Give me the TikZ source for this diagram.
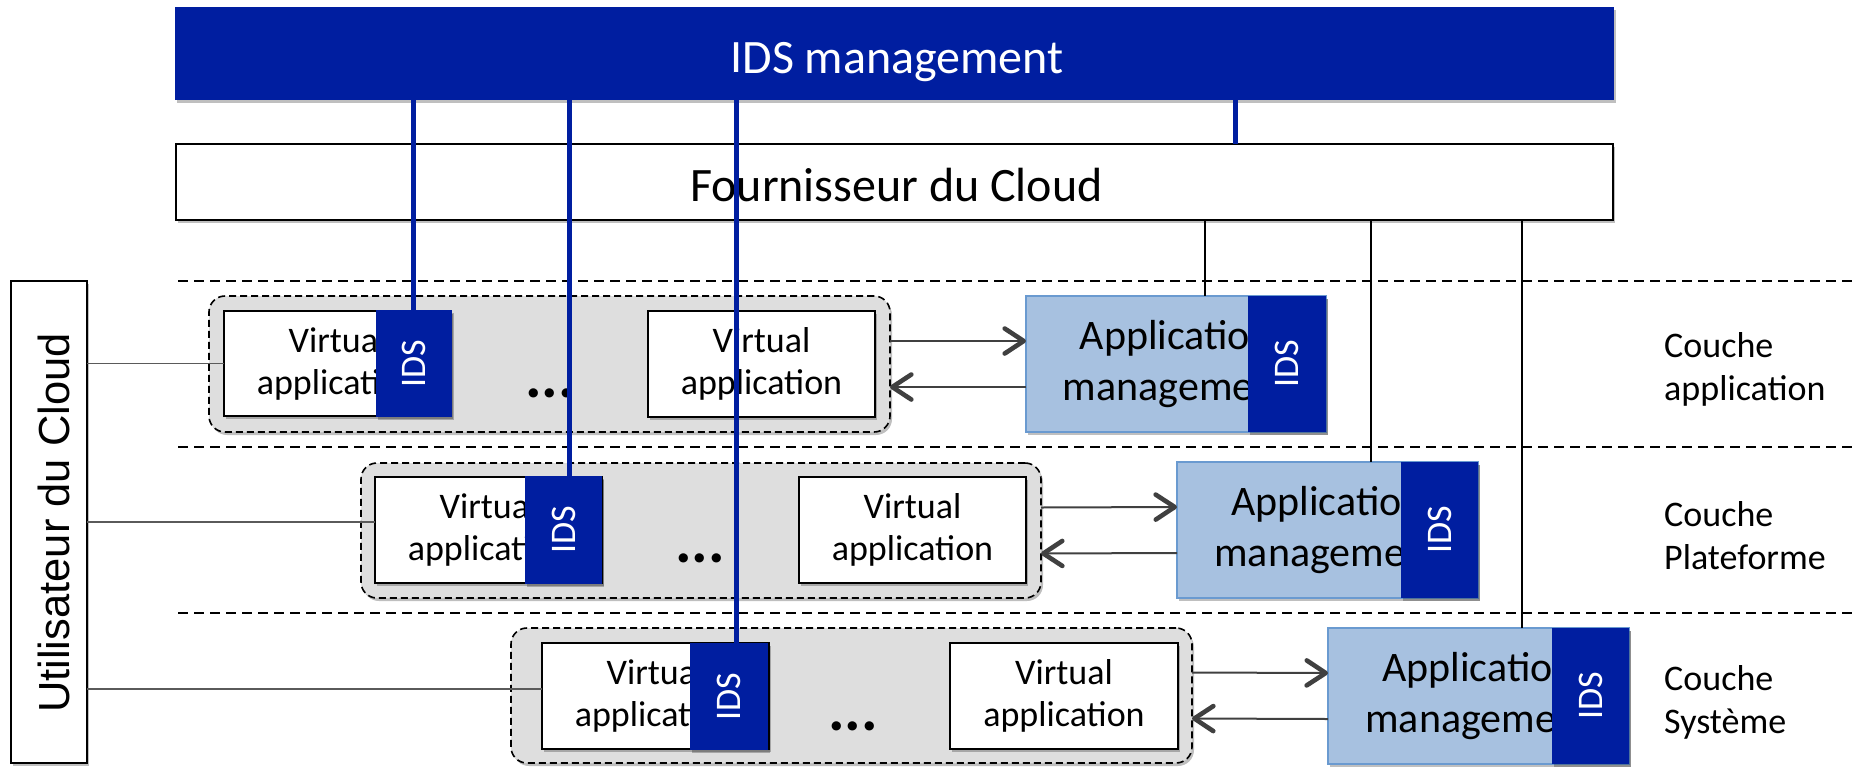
\documentclass[tikz,border=0pt]{standalone}
\usepackage{fontspec}
\setmainfont{Carlito}
\newfontfamily\userfont{Liberation Sans}
\usetikzlibrary{arrows.meta,shadows}
\definecolor{idsblue}{HTML}{001EA0}
\definecolor{appfill}{HTML}{A7C1E0}
\definecolor{appdraw}{HTML}{6A9AD0}
\definecolor{grpfill}{HTML}{DEDEDE}
\definecolor{arrgray}{HTML}{404040}
\definecolor{linegray}{HTML}{5A5A5A}
\begin{document}
\begin{tikzpicture}[x=1pt,y=-1pt,
  shad/.style={drop shadow={shadow xshift=2pt,shadow yshift=-3pt,opacity=0.25,fill=black}},
  rbox/.style={rectangle,inner sep=0pt,outer sep=0pt},
  barbox/.style={rbox,fill=idsblue,shad},
  whitebox/.style={rbox,draw=black,line width=2pt,fill=white,shad},
  grpbox/.style={rbox,draw=black,line width=1.6pt,dash pattern=on 7pt off 4pt,fill=grpfill,rounded corners=16pt,shad},
  vabox/.style={rbox,draw=black,line width=2pt,fill=white,align=center,font=\fontsize{36}{42}\selectfont,shad},
  appbox/.style={rbox,draw=appdraw,line width=2pt,fill=appfill,align=center,font=\fontsize{42}{51}\selectfont,shad},
  idsbox/.style={rbox,fill=idsblue,shad},
  idstext/.style={text=white,rotate=90,inner sep=0pt,font=\fontsize{36}{40}\selectfont},
  dotstext/.style={inner sep=0pt,font=\fontsize{62}{62}\selectfont\bfseries},
  laytext/.style={anchor=west,align=left,inner sep=0pt,font=\fontsize{36}{43}\selectfont},
  sepline/.style={line width=2pt,dash pattern=on 10pt off 6pt},
  thinline/.style={line width=1.2pt,black},
  userline/.style={line width=1.5pt,linegray},
  blueline/.style={line width=5pt,idsblue},
  arr/.style={line width=2pt,arrgray,-{Straight Barb[length=19pt,width=25pt,line width=4.6pt,round]}}
]
\useasboundingbox (0,0) rectangle (1857,766);

% separators
\coordinate (s1l) at (178,281); \coordinate (s1r) at (1857,281);
\coordinate (s2l) at (178,447); \coordinate (s2r) at (1857,447);
\coordinate (s3l) at (178,613); \coordinate (s3r) at (1857,613);
\draw[sepline] (s1l) -- (s1r);
\draw[sepline] (s2l) -- (s2r);
\draw[sepline] (s3l) -- (s3r);

% IDS management bar and provider
\node[barbox,minimum width=1439pt,minimum height=93pt] (bar) at (894.5,53.5) {};
\node[text=white,inner sep=0pt,font=\fontsize{48}{52}\selectfont] (bartxt) at (897,62) {IDS management};
\node[whitebox,minimum width=1437pt,minimum height=76pt] (fourn) at (894.5,182) {};
\node[inner sep=0pt,font=\fontsize{48}{52}\selectfont] (fourntxt) at (896.5,185.5) {Fournisseur du Cloud};

% user
\node[whitebox,minimum width=76pt,minimum height=482pt] (user) at (49,522) {};
\node[rotate=90,inner sep=0pt,font=\userfont\fontsize{43.5}{46}\selectfont] (usertxt) at (54,523) {Utilisateur du Cloud};

% ---------- Layer 1
\node[grpbox,minimum width=681pt,minimum height=136pt] (grp1) at (549.5,364) {};
\node[vabox,minimum width=227pt,minimum height=105pt] (va11) at (337.5,363.5) {Virtual\\application};
\node[idsbox,minimum width=76pt,minimum height=107pt] (ids1) at (414,363.5) {};
\node[idstext] (ids1t) at (ids1) {IDS};
\node[dotstext] (dots1) at (550,393) {...};
\node[vabox,minimum width=227pt,minimum height=106pt] (va12) at (761.5,364) {Virtual\\application};
\node[appbox,minimum width=300pt,minimum height=136pt] (app1) at (1176,364) {Application\\management};
\node[idsbox,minimum width=78pt,minimum height=136pt] (aids1) at (1287,364) {};
\node[idstext] (aids1t) at (aids1) {IDS};
\node[laytext] (lab1) at (1664,369) {Couche\\application};
\draw[arr] ([yshift=23pt]grp1.east) -- ([yshift=23pt]app1.west);
\draw[arr] ([yshift=-23pt]app1.west) -- ([yshift=-23pt]grp1.east);

% ---------- Layer 2
\node[grpbox,minimum width=680pt,minimum height=135pt] (grp2) at (701,530.5) {};
\node[vabox,minimum width=227pt,minimum height=106pt] (va21) at (488.5,530) {Virtual\\application};
\node[idsbox,minimum width=77pt,minimum height=108pt] (ids2) at (563.5,530) {};
\node[idstext] (ids2t) at (ids2) {IDS};
\node[dotstext] (dots2) at (700,558) {...};
\node[vabox,minimum width=227pt,minimum height=106pt] (va22) at (912.5,530) {Virtual\\application};
\node[appbox,minimum width=301pt,minimum height=136pt] (app2) at (1327.5,530) {Application\\management};
\node[idsbox,minimum width=77pt,minimum height=136pt] (aids2) at (1439.5,530) {};
\node[idstext] (aids2t) at (aids2) {IDS};
\node[laytext] (lab2) at (1664,535.5) {Couche\\Plateforme};
\draw[arr] ([yshift=23pt]grp2.east) -- ([yshift=23pt]app2.west);
\draw[arr] ([yshift=-23pt]app2.west) -- ([yshift=-23pt]grp2.east);

% ---------- Layer 3
\node[grpbox,minimum width=681pt,minimum height=135pt] (grp3) at (851.5,695.5) {};
\node[vabox,minimum width=227pt,minimum height=106pt] (va31) at (655.5,696) {Virtual\\application};
\node[idsbox,minimum width=78pt,minimum height=107pt] (ids3) at (729,696.5) {};
\node[idstext] (ids3t) at (ids3) {IDS};
\node[dotstext] (dots3) at (853,726) {...};
\node[vabox,minimum width=228pt,minimum height=106pt] (va32) at (1064,696) {Virtual\\application};
\node[appbox,minimum width=301pt,minimum height=136pt] (app3) at (1478.5,696) {Application\\management};
\node[idsbox,minimum width=77pt,minimum height=136pt] (aids3) at (1590.5,696) {};
\node[idstext] (aids3t) at (aids3) {IDS};
\node[laytext] (lab3) at (1664,702) {Couche\\Système};
\draw[arr] ([yshift=23pt]grp3.east) -- ([yshift=23pt]app3.west);
\draw[arr] ([yshift=-23pt]app3.west) -- ([yshift=-23pt]grp3.east);

% user connections
\coordinate (u1) at (va11.west);
\coordinate (u2) at ([yshift=8pt]va21.west);
\coordinate (u3) at ([yshift=7pt]va31.west);
\draw[userline] (user.east |- u1) -- (u1);
\draw[userline] (user.east |- u2) -- (u2);
\draw[userline] (user.east |- u3) -- (u3);

% provider to application management
\coordinate (f1) at (1205,0);
\coordinate (f2) at (1371,0);
\coordinate (f3) at (1522,0);
\draw[thinline] (fourn.south -| f1) -- (app1.north -| f1);
\draw[thinline] (fourn.south -| f2) -- (app2.north -| f2);
\draw[thinline] (fourn.south -| f3) -- (app3.north -| f3);

% IDS management links
\coordinate (b1) at (413,72);
\coordinate (b2) at (569,72);
\coordinate (b3) at (736,72);
\coordinate (b4) at (1235,72);
\draw[blueline] (b1) -- (b1 |- ids1.north);
\draw[blueline] (b2) -- (b2 |- ids2.north);
\draw[blueline] (b3) -- (b3 |- ids3.north);
\draw[blueline] (b4) -- (b4 |- fourn.north);
\end{tikzpicture}
\end{document}
